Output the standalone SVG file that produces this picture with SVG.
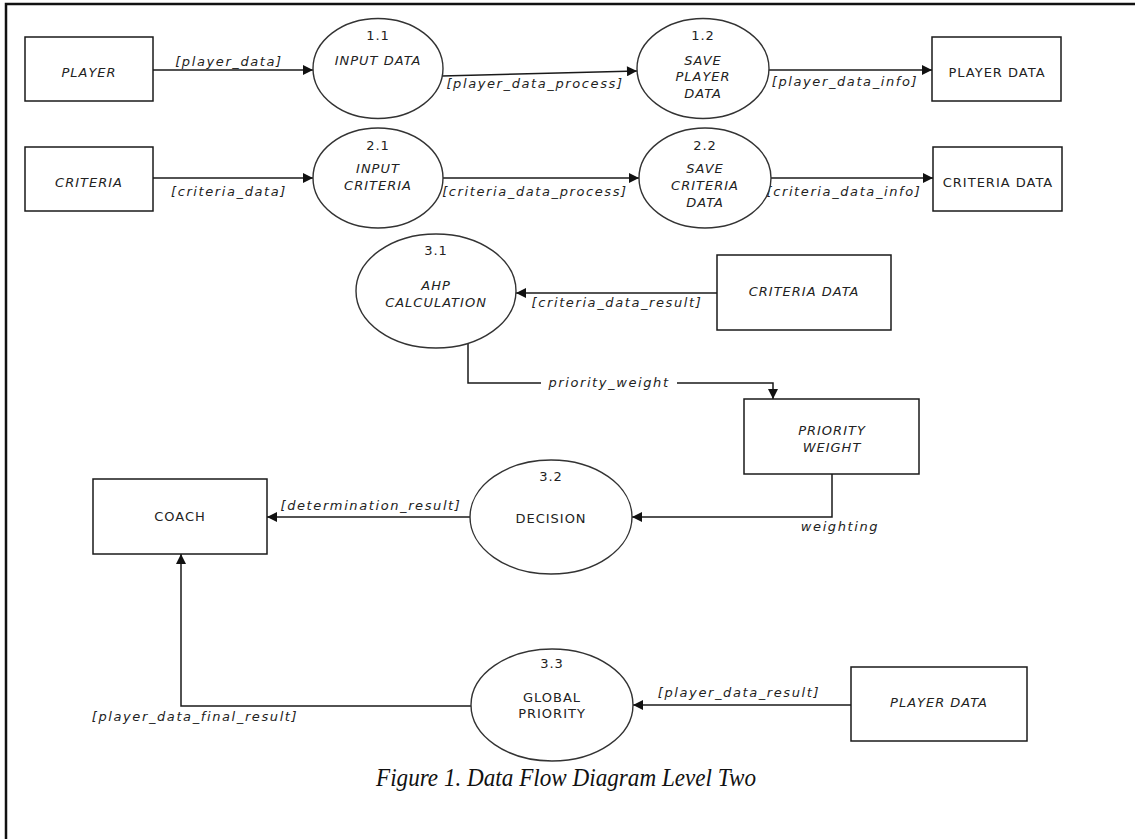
<svg xmlns="http://www.w3.org/2000/svg" width="1135" height="839" viewBox="0 0 1135 839">
<defs>
<marker id="ah" viewBox="0 0 10 10" refX="10" refY="5" markerWidth="11" markerHeight="10" markerUnits="userSpaceOnUse" orient="auto">
<path d="M0,0 L10,5 L0,10 z" fill="#111"/>
</marker>
<style>
.box{fill:#fff;stroke:#1a1a1a;stroke-width:1.5}
.proc{fill:#fff;stroke:#333;stroke-width:1.4}
.line{fill:none;stroke:#1a1a1a;stroke-width:1.5}
.t{font-family:"DejaVu Sans",Verdana,sans-serif;font-size:13px;fill:#222;text-anchor:middle;letter-spacing:1px}
.i{font-style:italic}
.lbl{font-family:"DejaVu Sans",Verdana,sans-serif;font-size:13px;font-style:italic;fill:#222;text-anchor:middle;letter-spacing:1.6px}
.cap{font-family:"Liberation Serif","Times New Roman",serif;font-style:italic;font-size:25px;fill:#111;text-anchor:middle}
</style>
</defs>
<rect x="6" y="4" width="1140" height="850" fill="#fff" stroke="#111" stroke-width="2.5"/>

<g id="connectors">
<line class="line" x1="153" y1="70" x2="313" y2="70" marker-end="url(#ah)"/>
<text class="lbl" x="229" y="66">[player_data]</text>
<line class="line" x1="442" y1="76" x2="637" y2="71" marker-end="url(#ah)"/>
<text class="lbl" x="535" y="88">[player_data_process]</text>
<line class="line" x1="769" y1="70" x2="932" y2="70" marker-end="url(#ah)"/>
<text class="lbl" x="845" y="86">[player_data_info]</text>

<line class="line" x1="153" y1="178" x2="313" y2="178" marker-end="url(#ah)"/>
<text class="lbl" x="229" y="196">[criteria_data]</text>
<line class="line" x1="443" y1="178" x2="639" y2="178" marker-end="url(#ah)"/>
<text class="lbl" x="535" y="196">[criteria_data_process]</text>
<line class="line" x1="771" y1="178" x2="933" y2="178" marker-end="url(#ah)"/>
<text class="lbl" x="844" y="196">[criteria_data_info]</text>

<line class="line" x1="717" y1="293" x2="516" y2="293" marker-end="url(#ah)"/>
<text class="lbl" x="617" y="307">[criteria_data_result]</text>

<path class="line" d="M468,343 V383 H541"/>
<path class="line" d="M677,383 H773 V399" marker-end="url(#ah)"/>
<text class="lbl" x="609" y="387">priority_weight</text>

<path class="line" d="M832,474 V517 H632" marker-end="url(#ah)"/>
<text class="lbl" x="840" y="531">weighting</text>

<line class="line" x1="470" y1="517" x2="267" y2="517" marker-end="url(#ah)"/>
<text class="lbl" x="371" y="510">[determination_result]</text>

<path class="line" d="M471,706 H181 V554" marker-end="url(#ah)"/>
<text class="lbl" x="195" y="721">[player_data_final_result]</text>

<line class="line" x1="851" y1="705" x2="633" y2="705" marker-end="url(#ah)"/>
<text class="lbl" x="739" y="697">[player_data_result]</text>
</g>

<g id="player">
<rect class="box" x="25" y="37" width="128" height="64"/>
<text class="t i" x="89" y="77">PLAYER</text>
</g>
<g id="p1_1">
<ellipse class="proc" cx="378" cy="68.5" rx="65" ry="50"/>
<text class="t" x="378" y="40">1.1</text>
<text class="t i" x="378" y="65">INPUT DATA</text>
</g>
<g id="p1_2">
<ellipse class="proc" cx="703" cy="68.5" rx="66" ry="50"/>
<text class="t" x="703" y="40">1.2</text>
<text class="t i" x="703" y="65">SAVE</text>
<text class="t i" x="703" y="81">PLAYER</text>
<text class="t i" x="703" y="98">DATA</text>
</g>
<g id="player_data_store">
<rect class="box" x="932" y="37" width="129" height="64"/>
<text class="t" x="997" y="77">PLAYER DATA</text>
</g>

<g id="criteria">
<rect class="box" x="25" y="147" width="128" height="64"/>
<text class="t i" x="89" y="187">CRITERIA</text>
</g>
<g id="p2_1">
<ellipse class="proc" cx="378" cy="178" rx="65" ry="50"/>
<text class="t" x="378" y="150">2.1</text>
<text class="t i" x="378" y="173">INPUT</text>
<text class="t i" x="378" y="190">CRITERIA</text>
</g>
<g id="p2_2">
<ellipse class="proc" cx="705" cy="178" rx="66" ry="50"/>
<text class="t" x="705" y="150">2.2</text>
<text class="t i" x="705" y="173">SAVE</text>
<text class="t i" x="705" y="190">CRITERIA</text>
<text class="t i" x="705" y="207">DATA</text>
</g>
<g id="criteria_data_store">
<rect class="box" x="933" y="147" width="129" height="64"/>
<text class="t" x="998" y="187">CRITERIA DATA</text>
</g>

<g id="p3_1">
<ellipse class="proc" cx="436" cy="291" rx="80" ry="57"/>
<text class="t" x="436" y="255">3.1</text>
<text class="t i" x="436" y="290">AHP</text>
<text class="t i" x="436" y="307">CALCULATION</text>
</g>
<g id="criteria_data_mid">
<rect class="box" x="717" y="255" width="174" height="75"/>
<text class="t i" x="804" y="296">CRITERIA DATA</text>
</g>
<g id="priority_weight">
<rect class="box" x="744" y="399" width="175" height="75"/>
<text class="t i" x="832" y="435">PRIORITY</text>
<text class="t i" x="832" y="452">WEIGHT</text>
</g>
<g id="coach">
<rect class="box" x="93" y="479" width="174" height="75"/>
<text class="t" x="180" y="521">COACH</text>
</g>
<g id="p3_2">
<ellipse class="proc" cx="551" cy="517" rx="81" ry="57"/>
<text class="t" x="551" y="481">3.2</text>
<text class="t" x="551" y="523">DECISION</text>
</g>
<g id="p3_3">
<ellipse class="proc" cx="552" cy="705" rx="81" ry="56"/>
<text class="t" x="552" y="668">3.3</text>
<text class="t" x="552" y="702">GLOBAL</text>
<text class="t" x="552" y="718">PRIORITY</text>
</g>
<g id="player_data_bottom">
<rect class="box" x="851" y="667" width="176" height="74"/>
<text class="t i" x="939" y="707">PLAYER DATA</text>
</g>

<text class="cap" x="566" y="786" textLength="380" lengthAdjust="spacingAndGlyphs">Figure 1. Data Flow Diagram Level Two</text>
</svg>
